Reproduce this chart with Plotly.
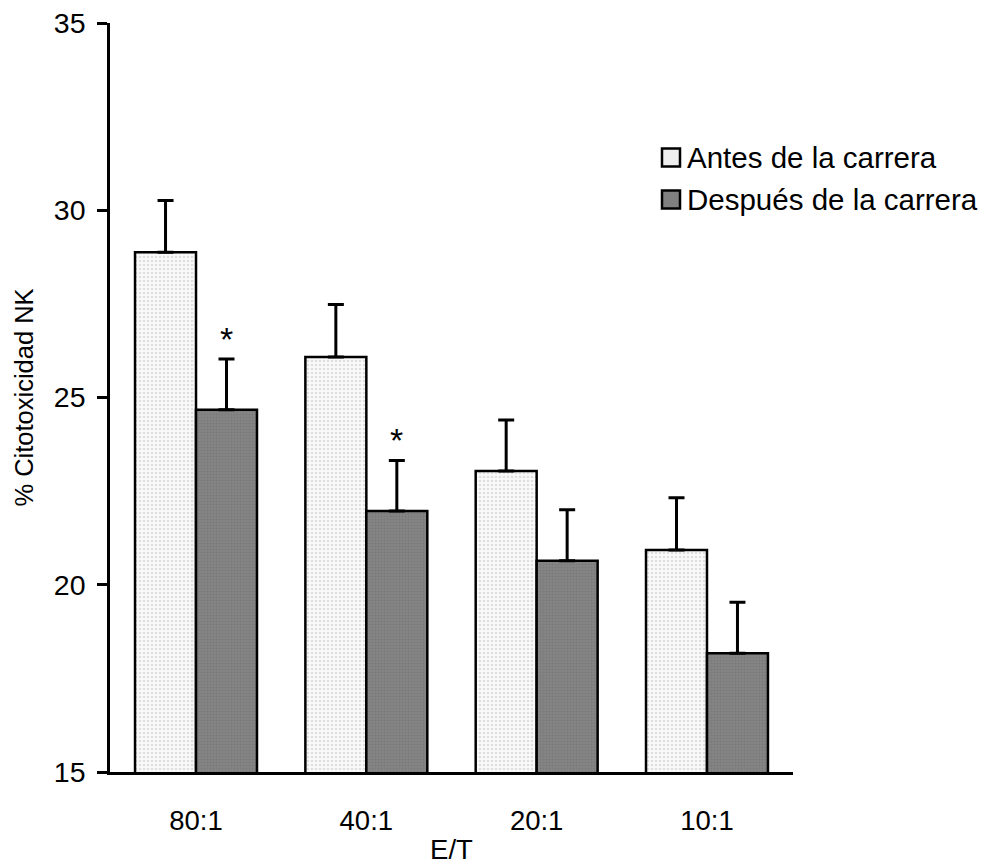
import plotly.graph_objects as go

# E/T ratios and NK cytotoxicity (%), mean and upper error
ratios = ["80:1", "40:1", "20:1", "10:1"]
antes = [28.88, 26.08, 23.04, 20.93]
antes_err = [1.38, 1.40, 1.36, 1.39]
despues = [24.67, 21.97, 20.64, 18.17]
despues_err = [1.36, 1.35, 1.36, 1.36]
significant = [True, True, False, False]

series_names = ["Antes de la carrera", "Después de la carrera"]

FONT = "Liberation Sans, Arial, Helvetica, sans-serif"
W, H = 982, 865
L, R, T, B = 110, 189, 23, 93
plot_w = W - L - R
plot_h = H - T - B


def px_x(x):
    return (x - L) / plot_w


def px_y(y):
    return (H - B - y) / plot_h


fig = go.Figure()
fig.add_trace(go.Bar(
    x=ratios, y=antes, name=series_names[0],
    marker=dict(color="#f4f4f4", line=dict(color="black", width=2.5),
                pattern=dict(shape=".", fgcolor="#c4c4c4", bgcolor="#fafafa",
                             size=4, solidity=0.35)),
    error_y=dict(type="data", symmetric=False, array=antes_err,
                 arrayminus=[0] * len(antes), color="black", thickness=3, width=8),
    showlegend=False,
))
fig.add_trace(go.Bar(
    x=ratios, y=despues, name=series_names[1],
    marker=dict(color="#808080", line=dict(color="black", width=2.5),
                pattern=dict(shape=".", fgcolor="#6e6e6e", bgcolor="#858585",
                             size=3, solidity=0.4)),
    error_y=dict(type="data", symmetric=False, array=despues_err,
                 arrayminus=[0] * len(despues), color="black", thickness=3, width=8),
    showlegend=False,
))

bargap = 0.284
offset = (1 - bargap) / 4
annotations = []
for i, (v, e, sig) in enumerate(zip(despues, despues_err, significant)):
    if sig:
        annotations.append(dict(
            x=i + offset, y=v + e, xref="x", yref="y", text="*",
            showarrow=False, yanchor="bottom", yshift=-1,
            font=dict(family=FONT, size=34, color="black")))

# legend drawn as swatches + labels
shapes = []
swatch_colors = ["#eeeeee", "#808080"]
centers = [157.5, 199.5]
for name, col, cy in zip(series_names, swatch_colors, centers):
    shapes.append(dict(type="rect", xref="paper", yref="paper",
                       x0=px_x(662), x1=px_x(680), y0=px_y(cy + 9), y1=px_y(cy - 9),
                       fillcolor=col, line=dict(color="black", width=2.5)))
    annotations.append(dict(x=px_x(685), y=px_y(cy), xref="paper", yref="paper",
                            text=name, showarrow=False, xanchor="left", yanchor="middle",
                            font=dict(family=FONT, size=29.5, color="black")))

fig.update_layout(
    width=W, height=H,
    margin=dict(l=L, r=R, t=T, b=B),
    paper_bgcolor="white", plot_bgcolor="white",
    barmode="group", bargap=bargap, bargroupgap=0,
    font=dict(family=FONT, size=27, color="black"),
    shapes=shapes, annotations=annotations,
)
fig.update_xaxes(
    type="category", range=[-0.505, 3.505], automargin=False,
    showline=True, linecolor="black", linewidth=2.5,
    ticks="", showgrid=False, zeroline=False,
    tickfont=dict(family=FONT, size=27.5),
    ticklabelstandoff=22,
    title=dict(text="E/T", font=dict(family=FONT, size=27.5), standoff=12),
)
fig.update_yaxes(
    range=[15, 35], tickvals=[15, 20, 25, 30, 35], automargin=False,
    showline=True, linecolor="black", linewidth=2.5,
    ticks="outside", ticklen=10, tickwidth=2.5, tickcolor="black",
    showgrid=False, zeroline=False,
    tickfont=dict(family=FONT, size=28.5),
    ticklabelstandoff=6,
    title=dict(text="% Citotoxicidad NK", font=dict(family=FONT, size=25.5), standoff=13),
)

fig.write_html("out.html")
